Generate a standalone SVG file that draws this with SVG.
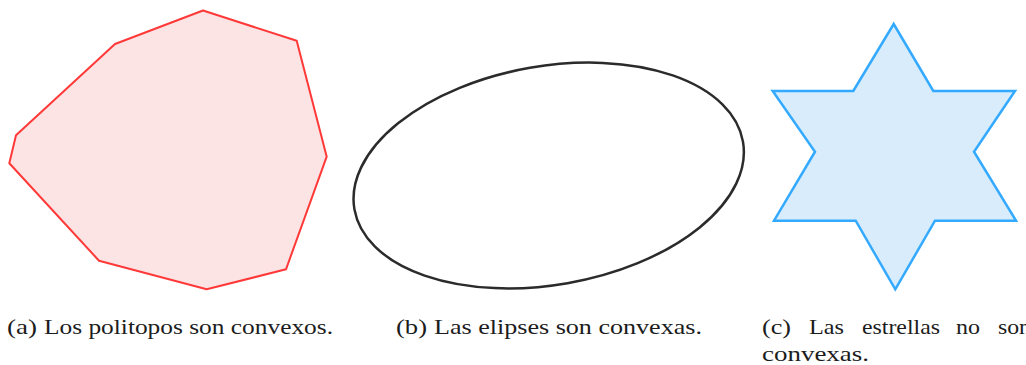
<svg xmlns="http://www.w3.org/2000/svg" width="1026" height="365" viewBox="0 0 1026 365">
<style>
.cap{font-family:"Liberation Serif","DejaVu Serif",serif;font-size:21px;fill:#1c1c1c}
</style>
<rect width="1026" height="365" fill="#ffffff"/>
<g id="polytope">
<polygon points="203,10.5 296.7,40.7 326.7,156.7 286,269.3 206.7,289.3 99,260.7 9.3,163.3 16,135.3 115,44" fill="#fde4e4" stroke="#ff3838" stroke-width="2" stroke-linejoin="round"/>
</g>
<g id="ellipse">
<ellipse cx="548.7" cy="175.5" rx="197.2" ry="109.3" transform="rotate(-9.9 548.7 175.5)" fill="none" stroke="#2b2b2b" stroke-width="2.5"/>
</g>
<g id="star">
<polygon points="893.7,24 933.3,91 1015,91 974,151.7 1016,220.7 935,220.7 895.3,289.3 855.7,220.7 774,220.7 815,151.7 772.7,91 853.3,91" fill="#d8ecfb" stroke="#33aaff" stroke-width="2.5" stroke-linejoin="miter"/>
</g>
<g id="captions">
<text class="cap" y="334"><tspan x="7" textLength="30" lengthAdjust="spacingAndGlyphs">(a)</tspan><tspan x="44" textLength="289" lengthAdjust="spacingAndGlyphs">Los politopos son convexos.</tspan></text>
<text class="cap" y="334"><tspan x="396" textLength="31" lengthAdjust="spacingAndGlyphs">(b)</tspan><tspan x="434" textLength="268" lengthAdjust="spacingAndGlyphs">Las elipses son convexas.</tspan></text>
<text class="cap" y="334"><tspan x="762" textLength="29" lengthAdjust="spacingAndGlyphs">(c)</tspan><tspan x="809" textLength="35" lengthAdjust="spacingAndGlyphs">Las</tspan><tspan x="862" textLength="78" lengthAdjust="spacingAndGlyphs">estrellas</tspan><tspan x="956" textLength="24" lengthAdjust="spacingAndGlyphs">no</tspan><tspan x="998" textLength="33" lengthAdjust="spacingAndGlyphs">son</tspan></text>
<text class="cap" x="762" y="361" textLength="107" lengthAdjust="spacingAndGlyphs">convexas.</text>
</g>
</svg>
